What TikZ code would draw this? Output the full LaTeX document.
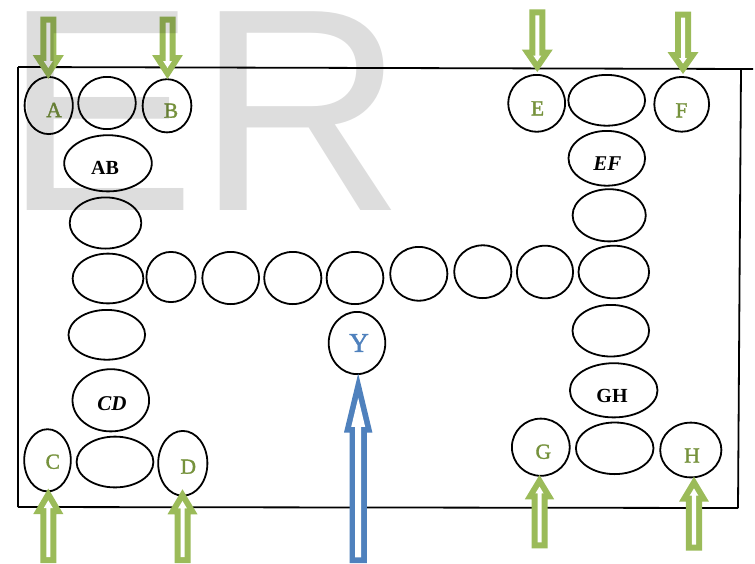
\documentclass[tikz,border=0pt]{standalone}
\usepackage{fontspec}
\setmainfont{Liberation Serif}
\newfontfamily\erfont{Liberation Sans}
\newfontfamily\labfont{Liberation Serif}[FakeBold=1.6]
\usetikzlibrary{shapes.geometric}
\definecolor{olivegreen}{HTML}{9BBB59}
\definecolor{labgreen}{HTML}{76923C}
\definecolor{officeblue}{HTML}{4F81BD}
\tikzset{
  ell/.style={ellipse, draw=black, line width=1.8pt, inner sep=0pt, outer sep=0pt},
  glab/.style={text=labgreen, font=\labfont\fontsize{21.5}{21.5}\selectfont, inner sep=0pt},
  blab/.style={text=black, font=\bfseries\fontsize{20}{20}\selectfont, inner sep=0pt},
  ilab/.style={text=black, font=\bfseries\itshape\fontsize{21}{21}\selectfont, inner sep=0pt},
  ylab/.style={text=officeblue, font=\labfont\fontsize{27}{27}\selectfont, inner sep=0pt},
  frameline/.style={line width=1.8pt, black}
}
% ellipse node: name, cx, cy, outer rx, outer ry
\newcommand{\ellnode}[5]{\node[ell, minimum width={2*#4-1.8}, minimum height={2*#5-1.8}] (#1) at (#2,#3) {};}
% hollow block arrow: color, tip x, tip y, length, head length, shaft half, head half, dir, thickness
\newcommand{\hollowarrow}[9]{%
  \pgfmathsetmacro\hkk{sqrt(1+(#7/#5)^2)*#9}%
  \pgfmathsetmacro\ihw{#7*(#5-#9)/#5-\hkk}%
  \pgfmathsetmacro\itp{\hkk*#5/#7}%
  \begin{scope}[shift={(#2,#3)}, yscale=#8]
    \fill[#1] (-#6,-#4) -- (#6,-#4) -- (#6,-#5) -- (#7,-#5) -- (0,0) -- (-#7,-#5) -- (-#6,-#5) -- cycle;
    \fill[white] ({-#6+#9},{-#4+#9}) -- ({#6-#9},{-#4+#9}) -- ({#6-#9},{-#5+#9}) -- (\ihw,{-#5+#9}) -- (0,-\itp) -- (-\ihw,{-#5+#9}) -- ({-#6+#9},{-#5+#9}) -- cycle;
  \end{scope}}
\begin{document}
\begin{tikzpicture}[x=1pt, y=-1pt]
\useasboundingbox (0,0) rectangle (755,563);
\fill[white] (0,0) rectangle (755,563);

% frame
\coordinate (ftl) at (18,67);
\coordinate (ftr) at (753,69);
\coordinate (frt) at (741,68.5);
\coordinate (frb) at (738,508);
\coordinate (fbl) at (18,507);
\draw[frameline] (ftl) -- (ftr);
\draw[frameline] (frt) -- (frb);
\draw[frameline] (fbl) -- (frb);
\draw[frameline] (ftl) -- (fbl);

% ellipses left
\ellnode{a}{48.7}{105.5}{25}{29.5}
\ellnode{ab1}{107}{103}{29.7}{27}
\ellnode{b}{167}{105.8}{25.3}{27.5}
\ellnode{ab}{108}{163.3}{44.7}{29}
\ellnode{l1}{105.5}{223}{36.7}{26.5}
\ellnode{r1}{108}{278.5}{36.3}{25.8}
\ellnode{l2}{106.8}{334.8}{39.2}{25.8}
\ellnode{cd}{110.8}{400.3}{39.2}{32}
\ellnode{c}{47.5}{460.3}{24.2}{32}
\ellnode{cd1}{115}{462}{39.3}{26.3}
\ellnode{d}{182.8}{463.3}{25.5}{33.3}
% middle row
\ellnode{r2}{171}{277}{25.5}{26}
\ellnode{r3}{230.7}{278}{29.3}{27}
\ellnode{r4}{292.8}{278}{29.5}{27}
\ellnode{r5}{355}{278}{29.3}{27}
\ellnode{r6}{418.8}{273.8}{29.5}{27.8}
\ellnode{r7}{482.8}{271.7}{29.5}{27.3}
\ellnode{r8}{545}{272}{29}{27.2}
\ellnode{r9}{613.8}{272}{36.2}{27.2}
\ellnode{y}{357}{343}{29.2}{32}
% right
\ellnode{e}{536.7}{103.3}{29.3}{29.3}
\ellnode{ef1}{606.7}{100.3}{39.3}{26.3}
\ellnode{f}{681.7}{104.3}{28.3}{28.3}
\ellnode{ef}{606.8}{158.3}{39.2}{28.3}
\ellnode{rr1}{609.2}{215.3}{37.5}{27}
\ellnode{rr2}{610.8}{330.7}{39.2}{26.7}
\ellnode{gh}{613.7}{390.3}{44.7}{28}
\ellnode{g}{540.8}{447.2}{29.8}{29.5}
\ellnode{gh1}{614.7}{448.3}{39.7}{26.7}
\ellnode{h}{690.8}{450}{31.5}{28.3}

% labels
\node[glab] (la) at (54,110) {A};
\node[glab] (lb) at (171,110.7) {B};
\node[glab] (lc) at (52.8,461.7) {C};
\node[glab] (ld) at (188.3,466.7) {D};
\node[glab] (le) at (537.5,108.3) {E};
\node[glab] (lf) at (681.5,110.3) {F};
\node[glab] (lg) at (543.3,451.7) {G};
\node[glab] (lh) at (692,455.5) {H};
\node[blab] (lab) at (105,168) {AB};
\node[blab] (lgh) at (612,396) {GH};
\node[ilab] (lcd) at (112,403.5) {CD};
\node[ilab] (lef) at (607.3,164) {EF};
\node[ylab] (ly) at (359,343) {Y};

% arrows
\hollowarrow{olivegreen}{48.3}{79}{62.3}{24}{8}{15.6}{1}{6}
\hollowarrow{olivegreen}{167.5}{79}{62.3}{24}{8}{15.4}{1}{6}
\hollowarrow{olivegreen}{537.3}{72}{62.7}{22.5}{8}{15.5}{1}{6}
\hollowarrow{olivegreen}{683}{74}{62.3}{22}{8}{15.5}{1}{6}
\hollowarrow{olivegreen}{48.3}{488.5}{74.5}{25.5}{8}{15}{-1}{6}
\hollowarrow{olivegreen}{182.5}{489.3}{73.7}{25}{8}{15}{-1}{6}
\hollowarrow{olivegreen}{539.5}{475}{73.3}{24.3}{8}{14.7}{-1}{6}
\hollowarrow{olivegreen}{694}{476.7}{74}{25}{8.2}{15}{-1}{6}
\hollowarrow{officeblue}{358.2}{373.5}{189.5}{59}{8.7}{14.2}{-1}{5.7}

% watermark
\node[anchor=base west, inner sep=0pt, outer sep=0pt, font=\erfont\fontsize{289}{289}\selectfont, text=black, text opacity=0.135] (er) at (4,210.7) {ER};
\end{tikzpicture}
\end{document}
